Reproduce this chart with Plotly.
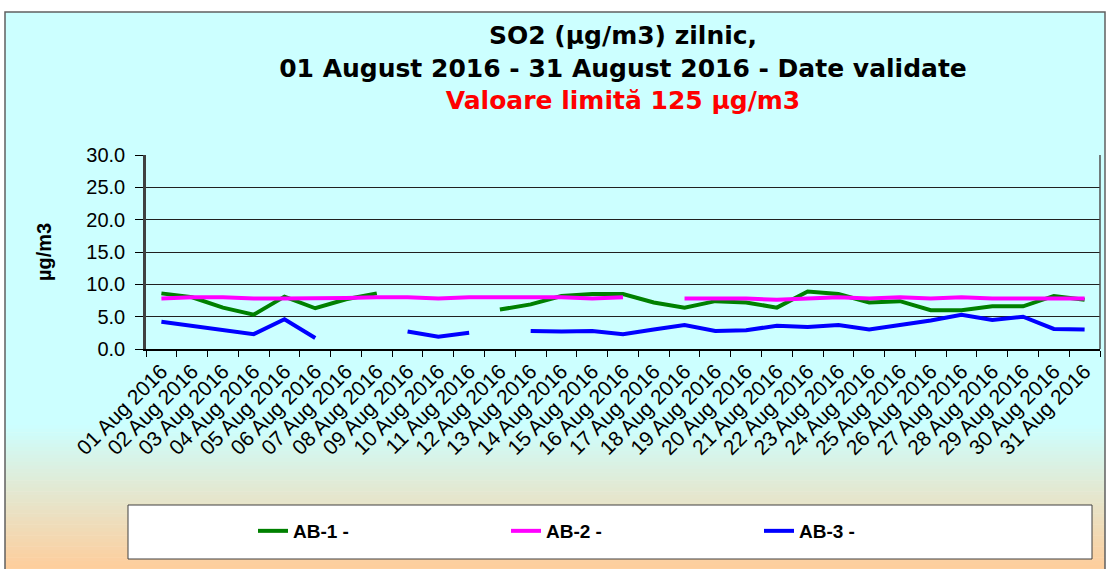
import plotly.graph_objects as go

days = [f"{d:02d} Aug 2016" for d in range(1, 32)]

ab1 = [8.6, 8.0, 6.4, 5.3, 8.1, 6.3, 7.7, 8.6, None, None, None, 6.1, 6.9, 8.2, 8.5, 8.5,
       7.2, 6.4, 7.4, 7.2, 6.4, 8.9, 8.5, 7.2, 7.4, 6.0, 6.0, 6.6, 6.6, 8.2, 7.6]
ab2 = [7.8, 8.0, 8.0, 7.8, 7.8, 7.8, 7.9, 8.0, 8.0, 7.8, 8.0, 8.0, 8.0, 8.0, 7.8, 8.0,
       None, 7.8, 7.8, 7.8, 7.6, 7.8, 8.0, 7.8, 8.0, 7.8, 8.0, 7.8, 7.8, 7.8, 7.8]
ab3 = [4.2, 3.6, 2.9, 2.3, 4.6, 1.7, None, None, 2.7, 1.9, 2.5, None, 2.8, 2.7, 2.8, 2.3,
       3.0, 3.7, 2.8, 2.9, 3.6, 3.4, 3.7, 3.0, 3.7, 4.4, 5.3, 4.5, 5.0, 3.1, 3.0]

series = [("AB-1 -", ab1, "#008000"), ("AB-2 -", ab2, "#FF00FF"), ("AB-3 -", ab3, "#0000FF")]
y_ticks = [0, 5, 10, 15, 20, 25, 30]

W, H = 1108, 569
L, R, T, B = 146, 8, 155, 220
pw, ph = W - L - R, H - T - B

def px(x):
    return (x - L) / pw

def py(y):
    return (H - B - y) / ph

fig = go.Figure()
for name, vals, col in series:
    fig.add_trace(go.Scatter(x=days, y=vals, name="<b>%s</b>" % name, mode="lines",
                             line=dict(color=col, width=4), connectgaps=False))

shapes = []
c1 = (204, 255, 255)
c2 = (255, 204, 153)
shapes.append(dict(type="rect", xref="paper", yref="paper", x0=px(5), x1=px(1105),
                   y0=py(425), y1=py(12), fillcolor="#CCFFFF", line_width=0, layer="below"))
n = 40
g0, g1 = 425, 572
for i in range(n):
    ya = g0 + (g1 - g0) * i / n
    yb = g0 + (g1 - g0) * (i + 1) / n
    t = (i + 0.5) / n
    c = tuple(round(a + (b - a) * t) for a, b in zip(c1, c2))
    shapes.append(dict(type="rect", xref="paper", yref="paper", x0=px(5), x1=px(1105),
                       y0=py(yb + 0.5), y1=py(ya), fillcolor="rgb(%d,%d,%d)" % c,
                       line_width=0, layer="below"))
shapes.append(dict(type="rect", xref="paper", yref="paper", x0=px(5), x1=px(1105),
                   y0=py(575), y1=py(12), line=dict(color="#606060", width=1.5), layer="below"))
shapes.append(dict(type="rect", xref="paper", yref="paper", x0=px(128), x1=px(1092),
                   y0=py(559), y1=py(505), fillcolor="white",
                   line=dict(color="#404040", width=1), layer="below"))
shapes.append(dict(type="line", xref="paper", yref="paper", x0=1, x1=1, y0=0, y1=1,
                   line=dict(color="#505050", width=1.5)))

fig.update_layout(
    width=W, height=H,
    margin=dict(l=L, r=R, t=T, b=B),
    paper_bgcolor="white",
    plot_bgcolor="#CCFFFF",
    shapes=shapes,
    font=dict(family="Liberation Sans, Arial, sans-serif", color="black"),
    title=dict(
        text="<b>SO2 (µg/m3) zilnic,<br>01 August 2016 - 31 August 2016 - Date validate<br>"
             "<span style='color:#FF0000'>Valoare limită 125 µg/m3</span></b>",
        x=0.5, xref="paper", xanchor="center", y=1 - 44 / H, yanchor="top",
        font=dict(size=25, family="DejaVu Sans, Verdana, sans-serif"),
    ),
    showlegend=True,
    legend=dict(orientation="h", x=px(253), xanchor="left", y=py(531), yanchor="middle",
                bgcolor="rgba(0,0,0,0)", entrywidth=208, entrywidthmode="pixels",
                font=dict(size=19, family="Liberation Sans, Arial, sans-serif"),
                itemwidth=30),
    xaxis=dict(type="category", tickangle=-45, tickson="boundaries", ticks="outside",
               ticklen=6, tickcolor="black", showline=True, linecolor="black", linewidth=1.5,
               showgrid=False, tickfont=dict(size=21), range=[-0.5, 30.5]),
    yaxis=dict(range=[0, 30], tickvals=y_ticks, ticktext=[f"{v:.1f}" for v in y_ticks],
               ticks="outside", ticklen=8, tickcolor="black", showline=True,
               linecolor="#404040", linewidth=2.5, showgrid=True, gridcolor="#202020",
               gridwidth=1, zeroline=False, tickfont=dict(size=20), ticklabelstandoff=6,
               title=dict(text="<b>µg/m3</b>", font=dict(size=20), standoff=30)),
)

fig.write_html("out.html", config={"displayModeBar": False},
               post_script="document.body.style.margin='0';document.body.style.overflow='hidden';")
